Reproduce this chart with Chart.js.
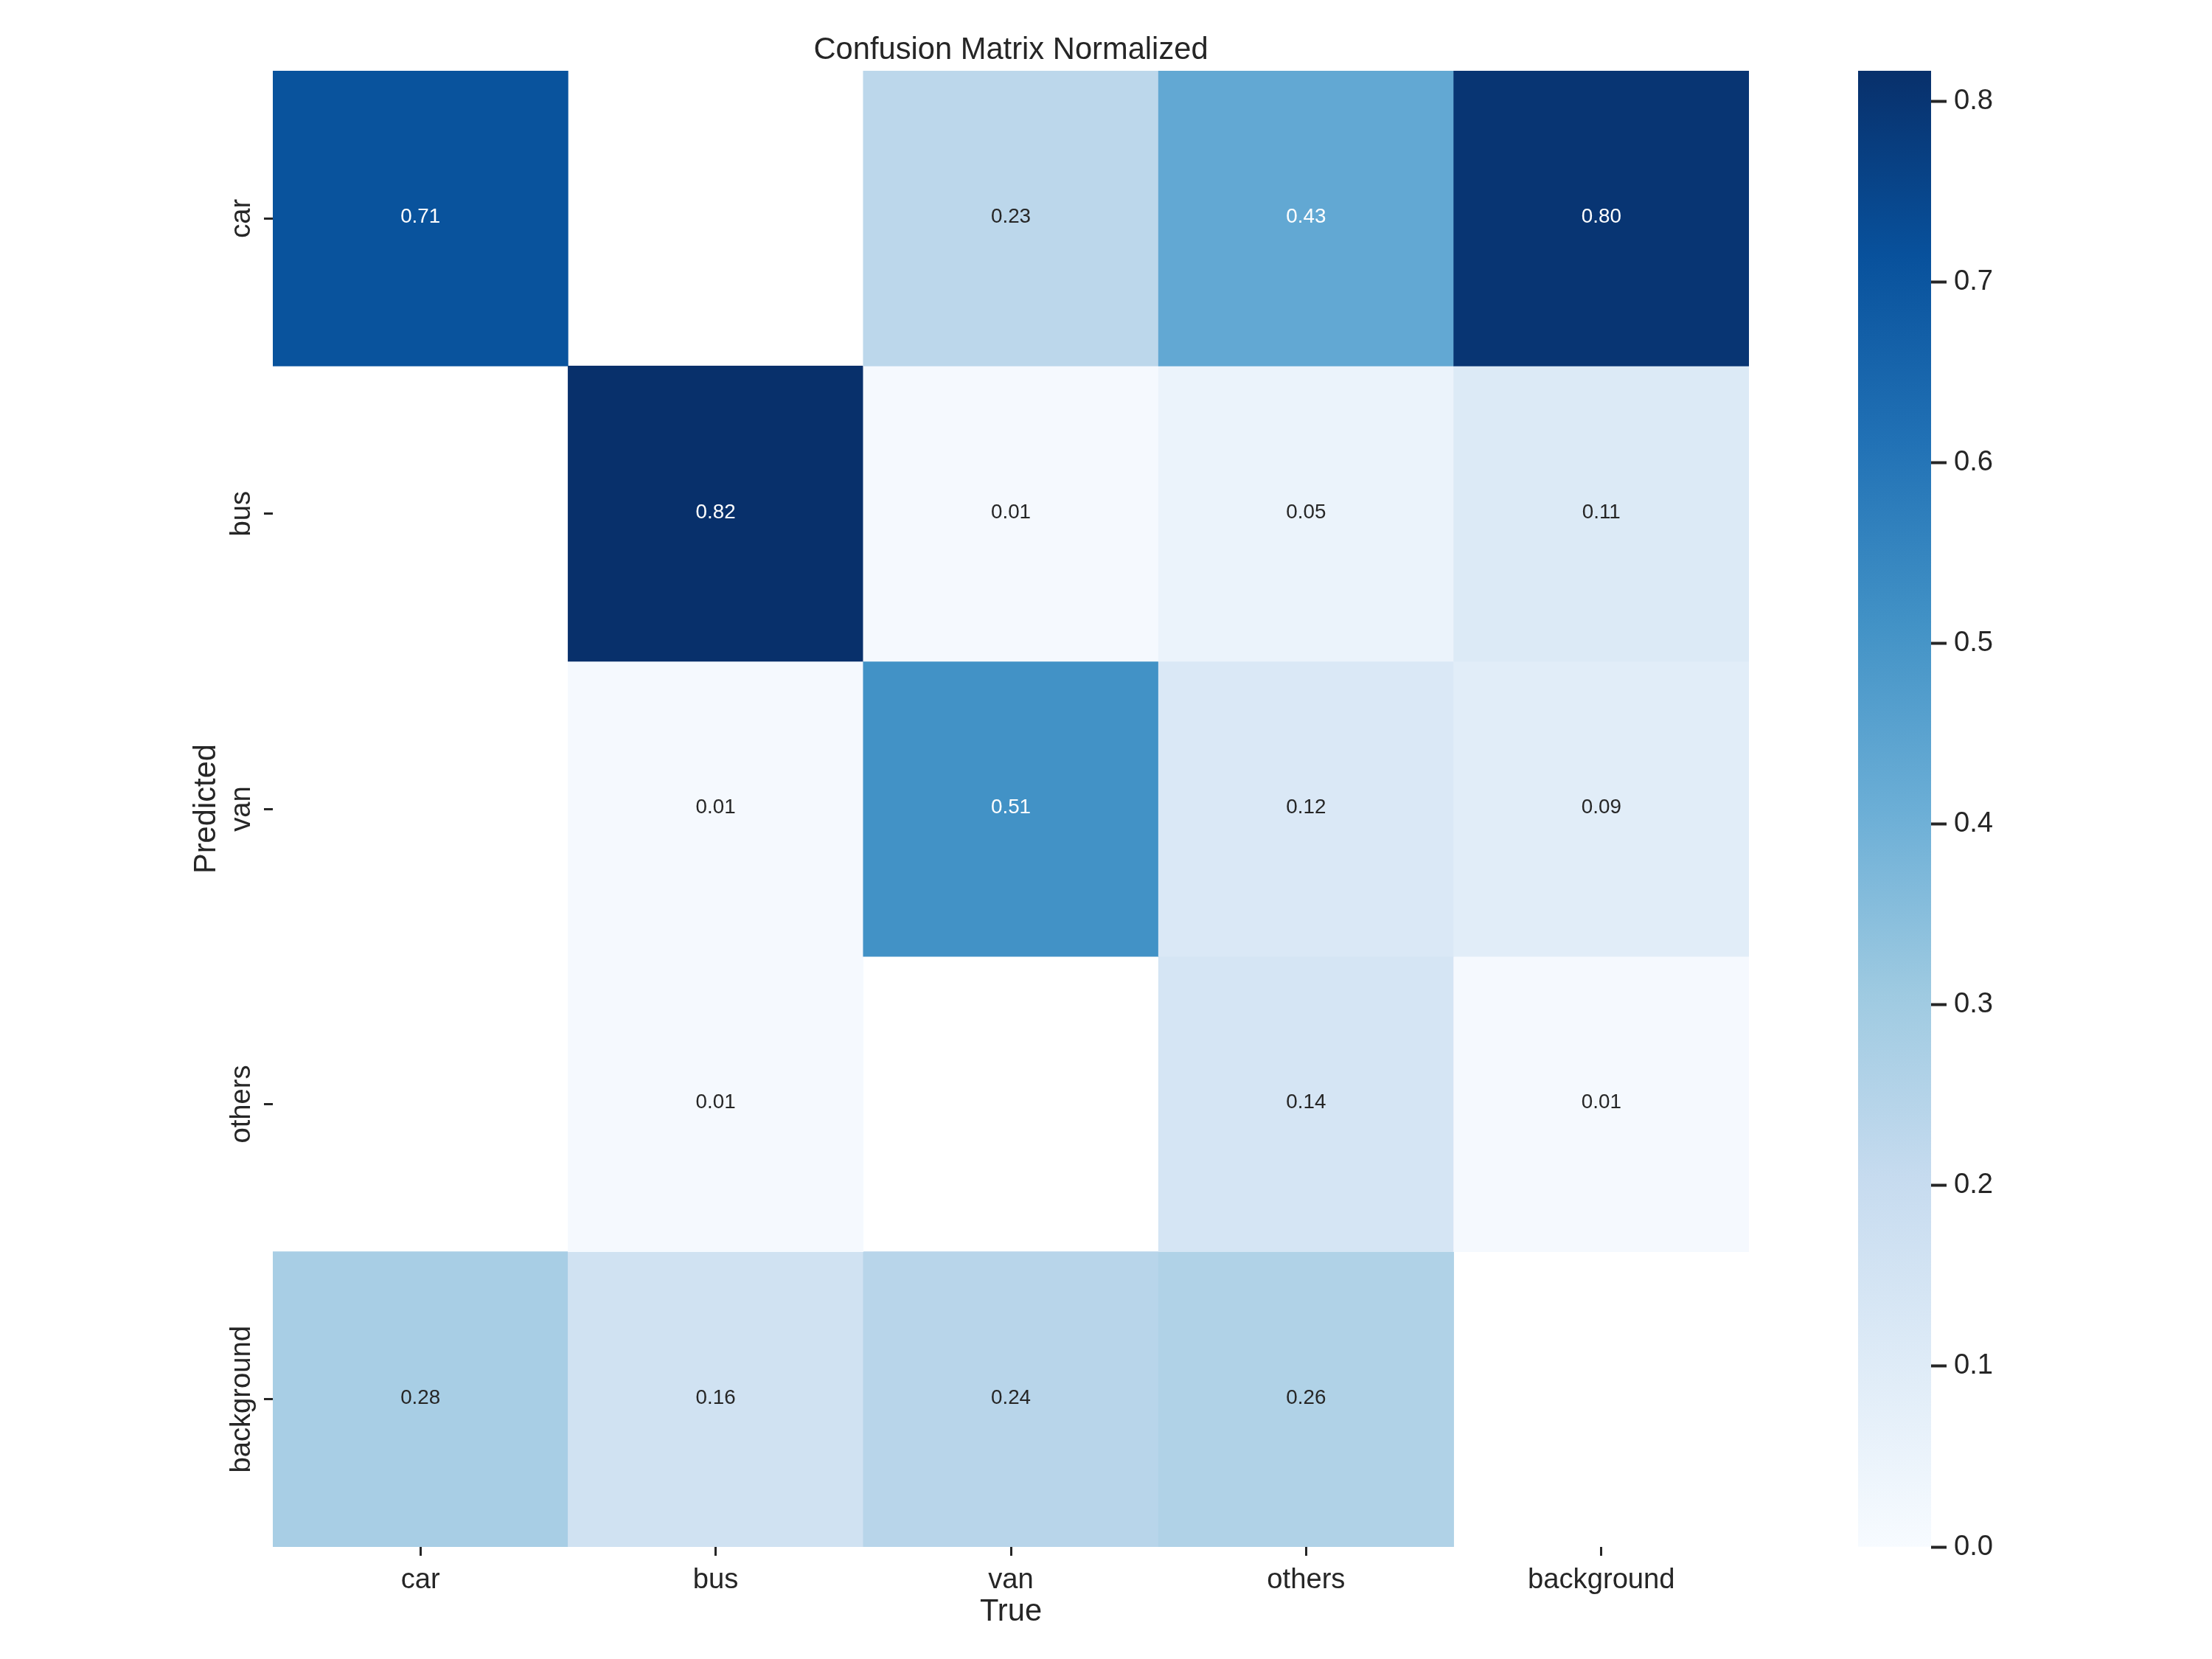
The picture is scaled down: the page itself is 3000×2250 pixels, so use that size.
<!DOCTYPE html>
<html>
<head>
<meta charset="utf-8">
<title>Confusion Matrix Normalized</title>
<script src="https://cdn.jsdelivr.net/npm/chart.js@4.4.1/dist/chart.umd.min.js"></script>
<style>
  html, body { margin: 0; padding: 0; background: #fff; }
  #matrix { position: absolute; left: 0; top: 0; width: 2400px; height: 2250px; }
  #colorbar { position: absolute; left: 2400px; top: 0; width: 600px; height: 2250px; }
</style>
</head>
<body>
<canvas id="matrix" width="2400" height="2250"></canvas>
<canvas id="colorbar" width="600" height="2250"></canvas>
<script>
// columns = true class, rows = predicted class
const trueLabels = ['car', 'bus', 'van', 'others', 'background'];
const predLabels = ['car', 'bus', 'van', 'others', 'background'];

// null = cell left blank (value under 0.005)
const carRow        = [0.71, null, 0.23, 0.43, 0.80];
const busRow        = [null, 0.817, 0.01, 0.05, 0.11];
const vanRow        = [null, 0.01, 0.51, 0.12, 0.09];
const othersRow     = [null, 0.01, null, 0.14, 0.01];
const backgroundRow = [0.28, 0.16, 0.24, 0.26, null];
const matrixRows = [carRow, busRow, vanRow, othersRow, backgroundRow];

const colorbarTicks = [0.0, 0.1, 0.2, 0.3, 0.4, 0.5, 0.6, 0.7, 0.8];

// matplotlib "Blues"
const bluesStops = ['#f7fbff', '#deebf7', '#c6dbef', '#9ecae1', '#6baed6',
                    '#4292c6', '#2171b5', '#08519c', '#08306b'];

const TEXT = '#262626';
Chart.defaults.font.family = '"Liberation Sans", Arial, sans-serif';
Chart.defaults.color = TEXT;

const vmax = Math.max(...matrixRows.flat().filter(v => v != null));

function hexToRgb(h) {
    return [1, 3, 5].map(i => parseInt(h.slice(i, i + 2), 16));
}

function bluesRgb(t) {
    t = Math.min(Math.max(t, 0), 1) * (bluesStops.length - 1);
    const i = Math.min(Math.floor(t), bluesStops.length - 2);
    const f = t - i;
    const a = hexToRgb(bluesStops[i]);
    const b = hexToRgb(bluesStops[i + 1]);
    return a.map((v, k) => Math.round(v + (b[k] - v) * f));
}

// same rule seaborn uses to pick annotation colour
function luminance(rgb) {
    const c = rgb.map(v => {
        v /= 255;
        return v <= 0.03928 ? v / 12.92 : Math.pow((v + 0.055) / 1.055, 2.4);
    });
    return 0.2126 * c[0] + 0.7152 * c[1] + 0.0722 * c[2];
}

const cellLabels = {
    id: 'cellLabels',
    afterDatasetsDraw(chart) {
        const ctx = chart.ctx;
        ctx.save();
        ctx.font = '27.8px "Liberation Sans", Arial, sans-serif';
        ctx.textAlign = 'center';
        ctx.textBaseline = 'alphabetic';
        matrixRows.forEach((row, r) => {
            const meta = chart.getDatasetMeta(r);
            row.forEach((v, c) => {
                if (v == null) return;
                const bar = meta.data[c];
                ctx.fillStyle = luminance(bluesRgb(v / vmax)) > 0.408 ? TEXT : '#ffffff';
                ctx.fillText(v.toFixed(2), bar.x, (bar.y + bar.base) / 2 + 6);
            });
        });
        ctx.restore();
    }
};

const tickGrid = {
    drawOnChartArea: false,
    drawTicks: true,
    offset: false,
    tickLength: 12,
    tickWidth: 3,
    tickColor: TEXT
};

new Chart(document.getElementById('matrix'), {
    type: 'bar',
    data: {
        labels: trueLabels,
        datasets: matrixRows.map((row, r) => ({
            label: predLabels[r],
            data: row.map(v => (v == null ? null : [r, r + 1])),
            backgroundColor: row.map(v => (v == null ? 'rgba(0,0,0,0)' : 'rgb(' + bluesRgb(v / vmax).join(',') + ')')),
            borderWidth: 0,
            grouped: false,
            barPercentage: 1,
            categoryPercentage: 1
        }))
    },
    options: {
        responsive: false,
        animation: false,
        layout: { padding: { left: 0, right: 28, top: 0, bottom: 0 } },
        scales: {
            x: {
                type: 'category',
                grid: tickGrid,
                border: { display: false },
                ticks: { font: { size: 38.2 }, color: TEXT, padding: 11, maxRotation: 0, autoSkip: false },
                title: {
                    display: true,
                    text: 'True',
                    color: TEXT,
                    font: { size: 41.7 },
                    padding: { top: 0, bottom: 38 }
                },
                afterFit: s => { s.height = 152; }
            },
            y: {
                type: 'linear',
                min: 0,
                max: predLabels.length,
                reverse: true,
                grid: tickGrid,
                border: { display: false },
                afterBuildTicks: axis => {
                    axis.ticks = predLabels.map((_, i) => ({ value: i + 0.5 }));
                },
                ticks: {
                    font: { size: 38.2 },
                    color: TEXT,
                    minRotation: 90,
                    maxRotation: 90,
                    crossAlign: 'center',
                    padding: -70,
                    autoSkip: false,
                    callback: (v, i) => predLabels[i]
                },
                title: {
                    display: true,
                    text: 'Predicted',
                    color: TEXT,
                    font: { size: 41.7 },
                    padding: { top: 255, bottom: 0 }
                },
                afterFit: s => { s.width = 370; }
            }
        },
        plugins: {
            legend: { display: false },
            tooltip: { enabled: false },
            title: {
                display: true,
                text: 'Confusion Matrix Normalized',
                fullSize: false,
                color: TEXT,
                font: { size: 41.7, weight: 'normal' },
                padding: { top: 43, bottom: 3 }
            }
        }
    },
    plugins: [cellLabels]
});

new Chart(document.getElementById('colorbar'), {
    type: 'bar',
    data: {
        labels: [''],
        datasets: [{
            data: [[0, vmax]],
            backgroundColor(ctx) {
                const chart = ctx.chart;
                const ys = chart.scales.y;
                if (!chart.chartArea || !ys) return bluesStops[4];
                const g = chart.ctx.createLinearGradient(0, ys.getPixelForValue(0), 0, ys.getPixelForValue(vmax));
                bluesStops.forEach((col, i) => g.addColorStop(i / (bluesStops.length - 1), col));
                return g;
            },
            borderWidth: 0,
            barPercentage: 1,
            categoryPercentage: 1
        }]
    },
    options: {
        responsive: false,
        animation: false,
        layout: { padding: { left: 120, right: 0, top: 96, bottom: 152 } },
        scales: {
            x: { display: false },
            y: {
                type: 'linear',
                position: 'right',
                min: 0,
                max: vmax,
                border: { display: false },
                grid: { drawOnChartArea: false, drawTicks: true, tickLength: 21, tickWidth: 4, tickColor: TEXT },
                afterBuildTicks: axis => {
                    axis.ticks = colorbarTicks.map(v => ({ value: v }));
                },
                ticks: {
                    font: { size: 38.2 },
                    color: TEXT,
                    padding: 10,
                    callback: v => v.toFixed(1)
                },
                afterFit: s => { s.width = 381; }
            }
        },
        plugins: {
            legend: { display: false },
            tooltip: { enabled: false }
        }
    }
});
</script>
</body>
</html>
